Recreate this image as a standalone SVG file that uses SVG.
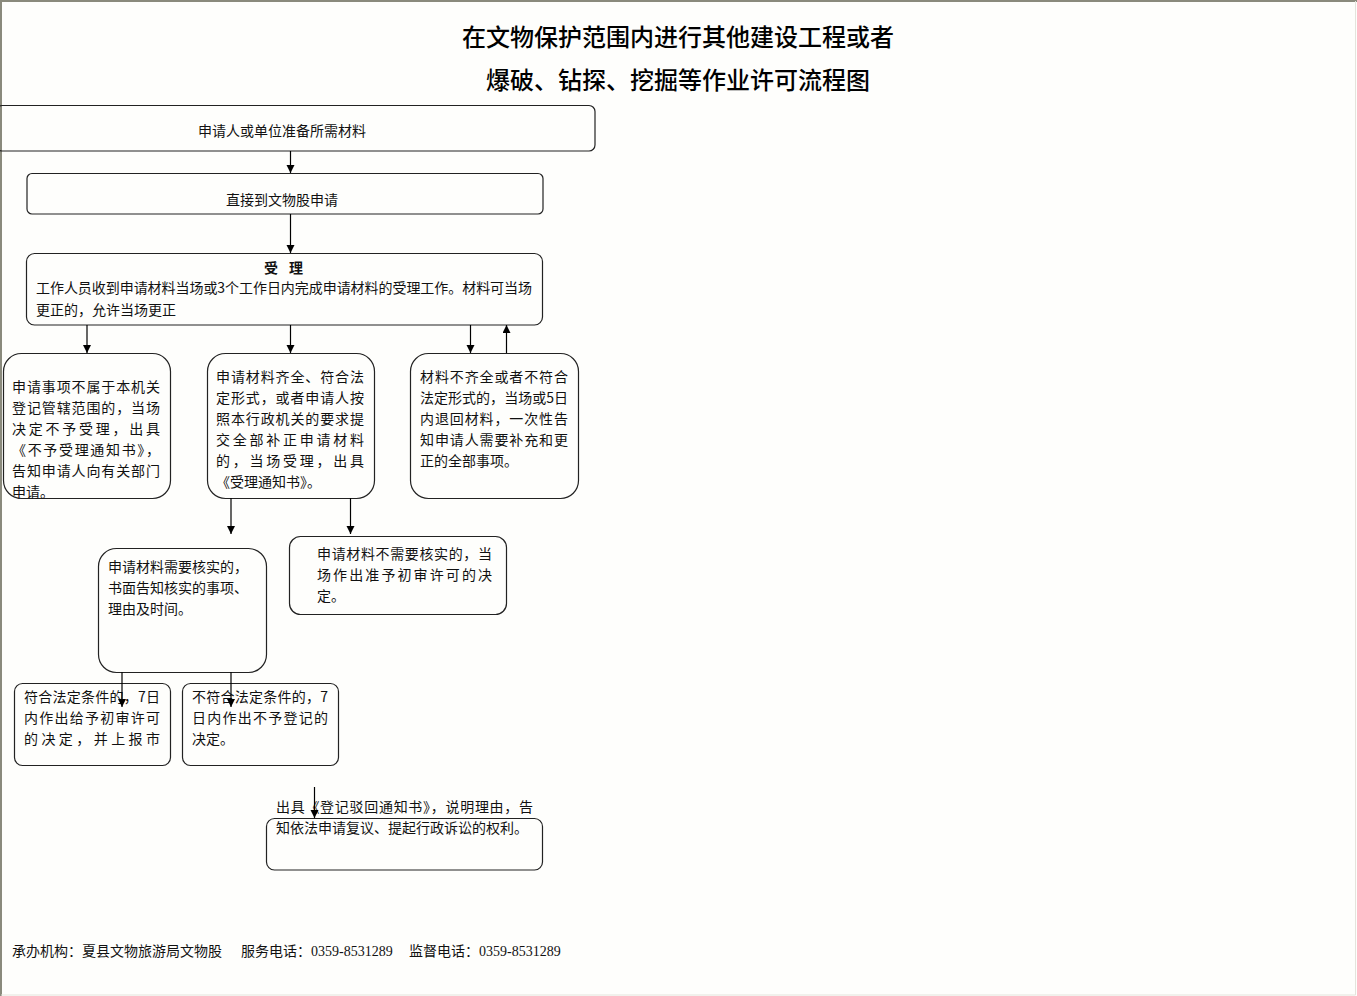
<svg xmlns="http://www.w3.org/2000/svg" width="1357" height="996" viewBox="0 0 1357 996">
<defs>
<marker id="ah" markerWidth="8" markerHeight="10" refX="8" refY="4" orient="auto" markerUnits="userSpaceOnUse">
<path d="M0,0 L8,4 L0,8 Z" fill="#000"/>
</marker>
<style>
.bx{fill:none;stroke:#222;stroke-width:1.2}
.t{font-family:"Noto Sans CJK SC","Noto Sans CJK TC",sans-serif;font-size:14px;fill:#111}
.ttl{font-family:"Noto Sans CJK SC",sans-serif;font-size:24px;fill:#000;font-weight:500}
.num{font-family:"Liberation Serif",serif}
.c{stroke:#000;stroke-width:1.2;fill:none;marker-end:url(#ah)}
</style>
</defs>
<rect x="0" y="0" width="1357" height="996" fill="#fefefc"/>
<path d="M1,996 L1,1 L1357,1" fill="none" stroke="#8a8a7c" stroke-width="2"/>
<path d="M1355.5,1 L1355.5,995 L1,995" fill="none" stroke="#e4e4dc" stroke-width="1"/>

<g id="title">
<text class="ttl" x="678" y="46" text-anchor="middle">在文物保护范围内进行其他建设工程或者</text>
<text class="ttl" x="678" y="89" text-anchor="middle">爆破、钻探、挖掘等作业许可流程图</text>
</g>

<g id="n1">
<rect class="bx" x="-4" y="105.5" width="599" height="45.5" rx="6"/>
<text class="t" x="282" y="136" text-anchor="middle">申请人或单位准备所需材料</text>
</g>
<g id="n2">
<rect class="bx" x="27" y="173.5" width="516" height="40.5" rx="5"/>
<text class="t" x="282" y="205" text-anchor="middle">直接到文物股申请</text>
</g>
<g id="n3">
<rect class="bx" x="26.5" y="253.5" width="516" height="71.5" rx="8"/>
<text class="t" x="264" y="273" font-weight="bold">受</text>
<text class="t" x="289" y="273" font-weight="bold">理</text>
<text class="t" x="36" y="293" textLength="496" lengthAdjust="spacing">工作人员收到申请材料当场或3个工作日内完成申请材料的受理工作。材料可当场</text>
<text class="t" x="36" y="315">更正的，允许当场更正</text>
</g>
<g id="n4">
<rect class="bx" x="3.5" y="353.5" width="167" height="145" rx="18"/>
<text class="t" x="12" y="392" textLength="148" lengthAdjust="spacing">申请事项不属于本机关</text>
<text class="t" x="12" y="413" textLength="148" lengthAdjust="spacing">登记管辖范围的，当场</text>
<text class="t" x="12" y="434" textLength="148" lengthAdjust="spacing">决定不予受理，出具</text>
<text class="t" x="12" y="455" textLength="148" lengthAdjust="spacing">《不予受理通知书》，</text>
<text class="t" x="12" y="476" textLength="148" lengthAdjust="spacing">告知申请人向有关部门</text>
<text class="t" x="12" y="497">申请。</text>
</g>
<g id="n5">
<rect class="bx" x="207.5" y="353.5" width="167" height="145" rx="18"/>
<text class="t" x="216" y="382" textLength="148" lengthAdjust="spacing">申请材料齐全、符合法</text>
<text class="t" x="216" y="403" textLength="148" lengthAdjust="spacing">定形式，或者申请人按</text>
<text class="t" x="216" y="424" textLength="148" lengthAdjust="spacing">照本行政机关的要求提</text>
<text class="t" x="216" y="445" textLength="148" lengthAdjust="spacing">交全部补正申请材料</text>
<text class="t" x="216" y="466" textLength="148" lengthAdjust="spacing">的，当场受理，出具</text>
<text class="t" x="216" y="487">《受理通知书》。</text>
</g>
<g id="n6">
<rect class="bx" x="410.5" y="353.5" width="168" height="145" rx="18"/>
<text class="t" x="420" y="382" textLength="148" lengthAdjust="spacing">材料不齐全或者不符合</text>
<text class="t" x="420" y="403" textLength="148" lengthAdjust="spacing">法定形式的，当场或5日</text>
<text class="t" x="420" y="424" textLength="148" lengthAdjust="spacing">内退回材料，一次性告</text>
<text class="t" x="420" y="445" textLength="148" lengthAdjust="spacing">知申请人需要补充和更</text>
<text class="t" x="420" y="466">正的全部事项。</text>
</g>
<g id="n7">
<rect class="bx" x="98.5" y="548.5" width="168" height="124" rx="18"/>
<text class="t" x="108" y="572">申请材料需要核实的，</text>
<text class="t" x="108" y="593">书面告知核实的事项、</text>
<text class="t" x="108" y="614">理由及时间。</text>
</g>
<g id="n8">
<rect class="bx" x="289.5" y="536.5" width="217" height="78" rx="11"/>
<text class="t" x="317" y="559" textLength="175" lengthAdjust="spacing">申请材料不需要核实的，当</text>
<text class="t" x="317" y="580" textLength="175" lengthAdjust="spacing">场作出准予初审许可的决</text>
<text class="t" x="317" y="601">定。</text>
</g>
<g id="n9">
<rect class="bx" x="14.5" y="683.5" width="156" height="82" rx="8"/>
<text class="t" x="24" y="702" textLength="136" lengthAdjust="spacing">符合法定条件的，7日</text>
<text class="t" x="24" y="723" textLength="136" lengthAdjust="spacing">内作出给予初审许可</text>
<text class="t" x="24" y="744" textLength="136" lengthAdjust="spacing">的决定，并上报市</text>
</g>
<g id="n10">
<rect class="bx" x="182.5" y="683.5" width="156" height="82" rx="8"/>
<text class="t" x="192" y="702" textLength="136" lengthAdjust="spacing">不符合法定条件的，7</text>
<text class="t" x="192" y="723" textLength="136" lengthAdjust="spacing">日内作出不予登记的</text>
<text class="t" x="192" y="744">决定。</text>
</g>
<g id="n11">
<rect class="bx" x="266.5" y="818.5" width="276" height="51.5" rx="8"/>
<text class="t" x="276" y="812" textLength="257" lengthAdjust="spacing">出具《登记驳回通知书》，说明理由，告</text>
<text class="t" x="276" y="833">知依法申请复议、提起行政诉讼的权利。</text>
</g>

<g id="connectors">
<line class="c" x1="290.5" y1="151" x2="290.5" y2="173"/>
<line class="c" x1="290.5" y1="214" x2="290.5" y2="253"/>
<line class="c" x1="87" y1="325" x2="87" y2="353"/>
<line class="c" x1="290.5" y1="325" x2="290.5" y2="353"/>
<line class="c" x1="470.5" y1="325" x2="470.5" y2="353"/>
<line class="c" x1="506.5" y1="353" x2="506.5" y2="325"/>
<line class="c" x1="231" y1="498" x2="231" y2="534"/>
<line class="c" x1="350.5" y1="498" x2="350.5" y2="534"/>
<line class="c" x1="122" y1="672" x2="122" y2="707"/>
<line class="c" x1="231" y1="672" x2="231" y2="707"/>
<line class="c" x1="314.5" y1="787" x2="314.5" y2="818"/>
</g>

<g id="footer">
<text class="t" x="12" y="956">承办机构：夏县文物旅游局文物股</text>
<text class="t" x="241" y="956">服务电话：<tspan class="num">0359-8531289</tspan></text>
<text class="t" x="409" y="956">监督电话：<tspan class="num">0359-8531289</tspan></text>
</g>
</svg>
